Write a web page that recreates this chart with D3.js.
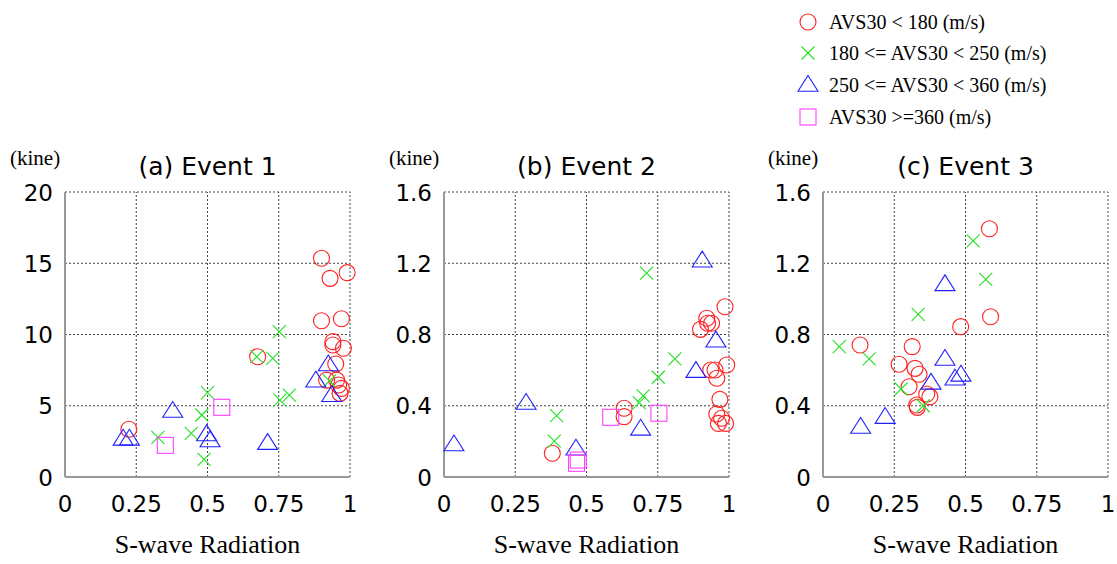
<!DOCTYPE html>
<html>
<head>
<meta charset="utf-8">
<script src="https://cdn.jsdelivr.net/npm/d3@7"></script>
<style>
  body { margin: 0; background: #fff; }
  svg { display: block; }
</style>
</head>
<body>
<div id="chart"></div>
<script>
// categories
var categories = ["AVS30 < 180 (m/s)", "180 <= AVS30 < 250 (m/s)", "250 <= AVS30 < 360 (m/s)", "AVS30 >=360 (m/s)"];
var titles = ["(a) Event 1", "(b) Event 2", "(c) Event 3"];
var yMaxes = [20, 1.6, 1.6];
var yTicks = [[0, 5, 10, 15, 20], [0, 0.4, 0.8, 1.2, 1.6], [0, 0.4, 0.8, 1.2, 1.6]];
var xTicks = [0, 0.25, 0.5, 0.75, 1];

// event 1 [radiation, velocity]
var e1Circle = [[0.90,15.35],[0.99,14.34],[0.93,13.94],[0.90,10.97],[0.97,11.11],[0.94,9.5],[0.94,9.26],[0.977,9.03],
  [0.95,7.93],[0.918,6.8],[0.953,6.8],[0.96,6.46],[0.97,6.22],[0.965,5.87],[0.676,8.44],[0.224,3.35]];
var e1Cross = [[0.752,10.2],[0.673,8.44],[0.729,8.33],[0.50,5.92],[0.48,4.35],[0.443,3.06],[0.326,2.78],[0.488,1.24],
  [0.754,5.4],[0.787,5.75],[0.928,6.75]];
var e1Tri = [[0.378,4.56],[0.204,2.61],[0.226,2.61],[0.497,2.92],[0.509,2.5],[0.711,2.31],[0.924,7.83],[0.88,6.69],[0.936,5.67]];
var e1Square = [[0.55,4.89],[0.352,2.22]];

// event 2
var e2Circle = [[0.986,0.956],[0.922,0.891],[0.925,0.863],[0.939,0.863],[0.90,0.829],[0.992,0.629],[0.936,0.601],[0.951,0.601],
  [0.957,0.554],[0.968,0.436],[0.957,0.354],[0.974,0.33],[0.963,0.301],[0.988,0.301],[0.632,0.386],[0.632,0.339],[0.38,0.133]];
var e2Cross = [[0.711,1.144],[0.81,0.663],[0.752,0.56],[0.699,0.455],[0.685,0.417],[0.395,0.344],[0.387,0.202]];
var e2Tri = [[0.906,1.209],[0.954,0.76],[0.884,0.589],[0.69,0.265],[0.288,0.41],[0.035,0.177],[0.463,0.153]];
var e2Square = [[0.585,0.335],[0.754,0.358],[0.465,0.077],[0.471,0.095]];

// event 3
var e3Circle = [[0.584,1.394],[0.588,0.90],[0.483,0.844],[0.13,0.741],[0.313,0.732],[0.267,0.633],[0.323,0.61],[0.337,0.577],
  [0.302,0.507],[0.364,0.466],[0.375,0.451],[0.329,0.404],[0.331,0.391]];
var e3Cross = [[0.527,1.325],[0.571,1.11],[0.334,0.913],[0.057,0.732],[0.162,0.663],[0.274,0.494],[0.352,0.40]];
var e3Tri = [[0.428,1.076],[0.428,0.657],[0.379,0.523],[0.484,0.568],[0.463,0.546],[0.218,0.331],[0.132,0.275]];
var e3Square = [];

var events = [[e1Circle, e1Cross, e1Tri, e1Square], [e2Circle, e2Cross, e2Tri, e2Square], [e3Circle, e3Cross, e3Tri, e3Square]];

var colors = ["#ff2020", "#22e022", "#2020ff", "#ff40ff"];
var shapes = ["circle", "cross", "triangle", "square"];

var W = 1117, H = 564;
var svg = d3.select("#chart").append("svg").attr("width", W).attr("height", H);

var plotW = 285, plotH = 285, plotTop = 192;
var lefts = [65, 444, 823];
var sans = "DejaVu Sans, Verdana, sans-serif";
var serif = "Liberation Serif, Times New Roman, serif";

function drawMarker(g, shape, color, cx, cy) {
  if (shape === "circle") {
    g.append("circle").attr("cx", cx).attr("cy", cy).attr("r", 8)
      .attr("fill", "none").attr("stroke", color).attr("stroke-width", 1.1);
  } else if (shape === "cross") {
    var s = 6.5;
    g.append("path").attr("d", "M" + (cx - s) + "," + (cy - s) + "L" + (cx + s) + "," + (cy + s) +
        "M" + (cx - s) + "," + (cy + s) + "L" + (cx + s) + "," + (cy - s))
      .attr("stroke", color).attr("stroke-width", 1.1).attr("fill", "none");
  } else if (shape === "triangle") {
    g.append("path").attr("d", "M" + cx + "," + (cy - 10.5) + "L" + (cx + 10) + "," + (cy + 5.3) +
        "L" + (cx - 10) + "," + (cy + 5.3) + "Z")
      .attr("stroke", color).attr("stroke-width", 1.1).attr("fill", "none");
  } else {
    g.append("rect").attr("x", cx - 8).attr("y", cy - 8).attr("width", 16).attr("height", 16)
      .attr("stroke", color).attr("stroke-width", 1.1).attr("fill", "none");
  }
}

events.forEach(function(ev, i) {
  var left = lefts[i];
  var x = d3.scaleLinear().domain([0, 1]).range([left, left + plotW]);
  var y = d3.scaleLinear().domain([0, yMaxes[i]]).range([plotTop + plotH, plotTop]);
  var g = svg.append("g");

  // grid
  xTicks.slice(1).forEach(function(t) {
    g.append("line").attr("x1", x(t)).attr("x2", x(t)).attr("y1", y(0)).attr("y2", y(yMaxes[i]))
      .attr("stroke", "#444").attr("stroke-width", 1).attr("stroke-dasharray", "2,2");
  });
  yTicks[i].slice(1).forEach(function(t) {
    g.append("line").attr("x1", x(0)).attr("x2", x(1)).attr("y1", y(t)).attr("y2", y(t))
      .attr("stroke", "#444").attr("stroke-width", 1).attr("stroke-dasharray", "2,2");
  });
  // solid axes
  g.append("line").attr("x1", x(0)).attr("x2", x(0)).attr("y1", y(0)).attr("y2", y(yMaxes[i]))
    .attr("stroke", "#999").attr("stroke-width", 2);
  g.append("line").attr("x1", x(0)).attr("x2", x(1)).attr("y1", y(0)).attr("y2", y(0))
    .attr("stroke", "#999").attr("stroke-width", 2);

  // tick labels
  g.selectAll(".yt").data(yTicks[i]).enter().append("text")
    .attr("x", left - 12).attr("y", function(d) { return y(d) + 8.5; })
    .attr("text-anchor", "end").attr("font-family", sans)
    .attr("font-size", 23).text(function(d) { return d; });
  g.selectAll(".xt").data(xTicks).enter().append("text")
    .attr("x", function(d) { return x(d); }).attr("y", 512)
    .attr("text-anchor", "middle").attr("font-family", sans)
    .attr("font-size", 23).text(function(d) { return d; });

  // titles
  g.append("text").attr("x", left + plotW / 2).attr("y", 175).attr("text-anchor", "middle")
    .attr("font-family", sans).attr("font-size", 25).text(titles[i]);
  g.append("text").attr("x", left - 55).attr("y", 165)
    .attr("font-family", serif).attr("font-size", 21).text("(kine)");
  g.append("text").attr("x", left + plotW / 2).attr("y", 553).attr("text-anchor", "middle")
    .attr("font-family", serif).attr("font-size", 26).text("S-wave Radiation");

  // points
  ev.forEach(function(series, k) {
    series.forEach(function(p) {
      drawMarker(g, shapes[k], colors[k], x(p[0]), y(p[1]));
    });
  });
});

// legend
var legendY = [22, 53, 85, 117];
var leg = svg.append("g");
categories.forEach(function(c, k) {
  drawMarker(leg, shapes[k], colors[k], 808, legendY[k] + (shapes[k] === "triangle" ? 1 : 0));
  leg.append("text").attr("x", 829).attr("y", legendY[k] + 7)
    .attr("font-family", serif).attr("font-size", 20).text(c);
});
</script>
</body>
</html>
